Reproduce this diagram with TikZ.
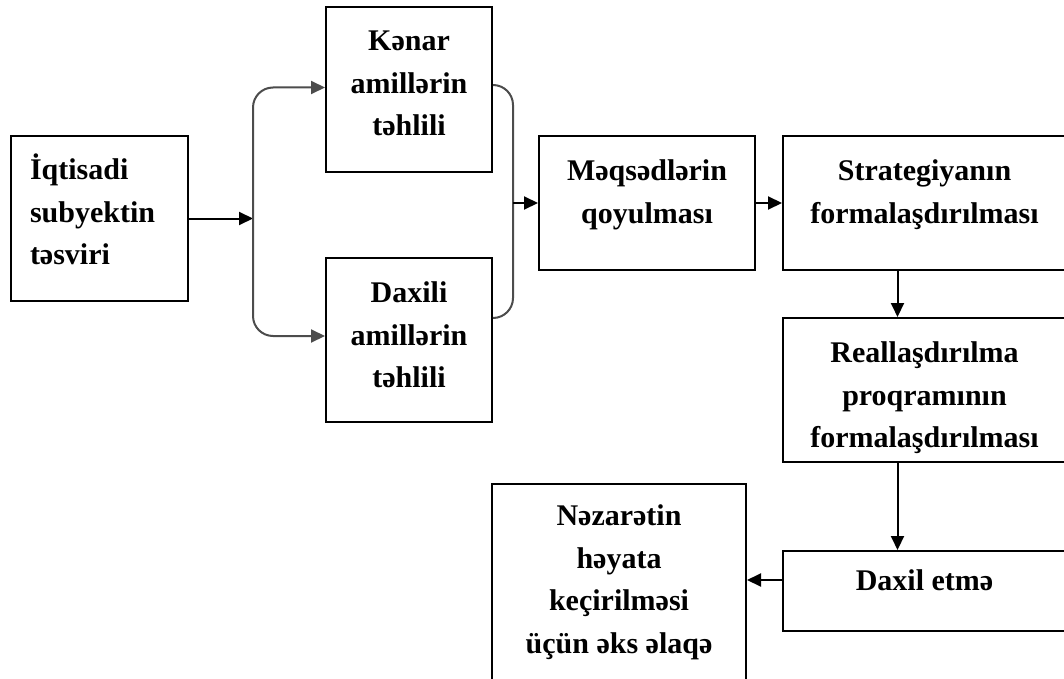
\documentclass[tikz,border=0pt]{standalone}
\usepackage{fontspec}
\setmainfont{Liberation Serif}
\usepackage{tikz}
\usetikzlibrary{arrows.meta}
\usetikzlibrary{calc}

\begin{document}
\begin{tikzpicture}[x=1pt,y=-1pt,>={Triangle[length=14pt,width=13pt]},line width=2pt,
	box/.style={draw,rectangle,inner sep=0pt},
	txt/.style={font=\bfseries\fontsize{30}{42.5}\selectfont,align=center,inner sep=0pt,anchor=north},
	brace/.style={draw=black!70,rounded corners=20pt}]

				\useasboundingbox (0,0) rectangle (1064,679);

				\node[box,minimum width=177pt,minimum height=165pt] (iqt) at (99.5,218.5) {};
				\node[box,minimum width=166pt,minimum height=165pt] (kenar) at (409,89.5) {};
				\node[box,minimum width=166pt,minimum height=164pt] (daxili) at (409,340) {};
				\node[box,minimum width=216pt,minimum height=134pt] (meqsed) at (647,203) {};
				\node[box,minimum width=283pt,minimum height=134pt] (strat) at (924.5,203) {};
				\node[box,minimum width=283pt,minimum height=144pt] (real) at (924.5,390) {};
				\node[box,minimum width=283pt,minimum height=80pt] (daxil) at (924.5,591) {};
				\node[box,minimum width=254pt,minimum height=216pt] (nezaret) at (619,592) {};

				\node[txt,align=left,anchor=north west] (iqt-t) at ([xshift=19pt,yshift=-18pt]iqt.north west) {İqtisadi\\subyektin\\təsviri};
				\node[txt] (kenar-t) at ([yshift=-24pt]kenar.north) {Kənar\\amillərin\\təhlili};
				\node[txt] (daxili-t) at ([yshift=-24pt]daxili.north) {Daxili\\amillərin\\təhlili};
				\node[txt] (meqsed-t) at ([yshift=-24pt]meqsed.north) {Məqsədlərin\\qoyulması};
				\node[txt] (strat-t) at ([yshift=-24pt]strat.north) {Strategiyanın\\formalaşdırılması};
				\node[txt] (real-t) at ([yshift=-24pt]real.north) {Reallaşdırılma\\proqramının\\formalaşdırılması};
				\node[txt] (daxil-t) at ([yshift=-19pt]daxil.north) {Daxil etmə};
				\node[txt] (nezaret-t) at ([yshift=-21pt]nezaret.north) {Nəzarətin\\həyata\\keçirilməsi\\üçün əks əlaqə};

				\coordinate (spl) at (253,218.5);
				\coordinate (jn) at (513,203);
				\coordinate (fb) at ([yshift=11pt]daxil.west);

				\draw[->] (iqt.east) -- (spl);
				\draw[brace,<->] ([yshift=2pt]kenar.west) -| (spl) |- ([yshift=4pt]daxili.west);
				\draw[brace] ([yshift=4.5pt]kenar.east) -| (jn) |- ([yshift=22pt]daxili.east);
				\draw[->] (jn) -- (meqsed.west);
				\draw[->] (meqsed.east) -- (strat.west);
				\draw[->] ([xshift=-27pt]strat.south) -- ([xshift=-27pt]real.north);
				\draw[->] ([xshift=-27pt]real.south) -- ([xshift=-27pt]daxil.north);
				\draw[->] (fb) -- (fb -| nezaret.east);

\end{tikzpicture}
\end{document}
